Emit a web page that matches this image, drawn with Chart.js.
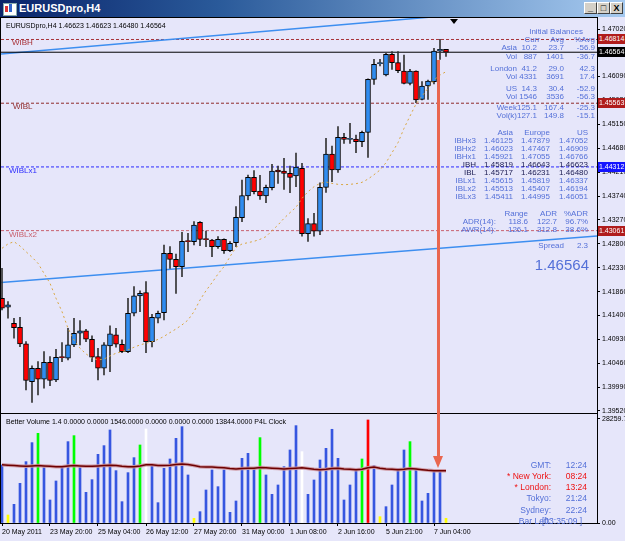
<!DOCTYPE html>
<html><head><meta charset="utf-8">
<script src="https://cdn.jsdelivr.net/npm/chart.js@4.4.1/dist/chart.umd.min.js"></script>
<style>
html,body{margin:0;padding:0}
body{width:625px;height:541px;position:relative;overflow:hidden;background:#e6e6fa;font-family:"Liberation Sans",Arial,sans-serif}
.abs{position:absolute;white-space:nowrap}
#title{left:0;top:0;width:625px;height:17px;background:linear-gradient(to right,#0a246a 0%,#2a5a9a 35%,#a6caf0 100%)}
#title .t{left:19px;top:2px;color:#fff;font-weight:bold;font-size:11px;line-height:13px}
.btn{top:2px;width:13px;height:12px;background:#d4d0c8;border:1px solid;border-color:#fff #404040 #404040 #fff;box-sizing:border-box;font-size:9px;line-height:10px;text-align:center;color:#000;font-weight:bold}
#frame{left:0;top:17px;width:598px;height:507px;border:1px solid #000;box-sizing:border-box}
#sep{left:1px;top:413px;width:596px;height:1px;background:#000}
canvas{position:absolute;left:0}
</style></head><body>
<div id="title" class="abs">
  <div class="abs" style="left:3px;top:3px;width:12px;height:11px;background:#fff;border:1px solid #8aa"></div>
  <div class="abs" style="left:5px;top:6px;width:3px;height:6px;background:#d33"></div>
  <div class="abs" style="left:9px;top:4px;width:3px;height:8px;background:#36c"></div>
  <div class="abs t">EURUSDpro,H4</div>
  <div class="abs btn" style="left:584px">_</div>
  <div class="abs btn" style="left:597px">□</div>
  <div class="abs btn" style="left:610px">X</div>
</div>
<div id="frame" class="abs"></div>
<canvas id="main" width="625" height="395" style="top:18px"></canvas>
<canvas id="vol" width="625" height="127" style="top:414px"></canvas>
<div id="sep" class="abs"></div>
<div id="overlay"></div>
<script>
// ---------------- data ----------------
const tickLabels = ['20 May 2011','23 May 20:00','25 May 04:00','26 May 12:00','27 May 20:00','31 May 00:00','1 Jun 08:00','2 Jun 16:00','5 Jun 21:00','7 Jun 04:00'];
const barsPerTick = 8;
const opens  = [1.41733,1.41556,1.41242,1.41164,1.40837,1.40098,1.40360,1.40144,1.40477,1.40131,1.40575,1.40556,1.40817,1.41046,1.41092,1.40929,1.40588,1.40360,1.40798,1.41014,1.40830,1.40687,1.41439,1.41779,1.41844,1.40883,1.41340,1.41450,1.42615,1.42498,1.42354,1.42851,1.42845,1.43224,1.42890,1.42877,1.42746,1.42890,1.42668,1.42825,1.43316,1.43741,1.44108,1.43839,1.43741,1.43905,1.44252,1.44232,1.44186,1.44133,1.44284,1.43000,1.43200,1.43050,1.43911,1.44565,1.44251,1.44892,1.44853,1.44860,1.44807,1.44990,1.46031,1.46340,1.46116,1.46522,1.46359,1.46195,1.45953,1.46195,1.45639,1.45900,1.45986,1.46588,1.46623];
const highs  = [1.42321,1.41668,1.41340,1.41360,1.40883,1.40405,1.40490,1.40687,1.40588,1.40732,1.40863,1.41144,1.41340,1.41295,1.41125,1.40994,1.40752,1.40863,1.41190,1.41144,1.40915,1.41733,1.41962,1.41877,1.42059,1.41420,1.41480,1.42779,1.42746,1.42602,1.43028,1.43008,1.43237,1.43237,1.43054,1.42890,1.42943,1.42900,1.42844,1.43532,1.44055,1.44153,1.44238,1.44147,1.43957,1.44363,1.44330,1.44481,1.44330,1.44585,1.44382,1.43300,1.43400,1.44000,1.44873,1.44722,1.45102,1.44971,1.45167,1.44938,1.45017,1.46040,1.46424,1.46424,1.46542,1.46575,1.46575,1.46509,1.46228,1.46200,1.45986,1.46018,1.46640,1.46817,1.46623];
const lows   = [1.41504,1.41340,1.40948,1.40785,1.39934,1.39686,1.39836,1.39967,1.40019,1.40098,1.40490,1.40523,1.40785,1.40817,1.40883,1.40490,1.40131,1.40229,1.40294,1.40772,1.40667,1.40667,1.41386,1.41471,1.40667,1.40780,1.41250,1.41306,1.42321,1.41830,1.42157,1.42648,1.42779,1.42766,1.42746,1.42550,1.42714,1.42615,1.42648,1.42746,1.43237,1.43663,1.43780,1.43676,1.43610,1.43859,1.43990,1.43872,1.43806,1.43924,1.42950,1.42850,1.42950,1.42980,1.43813,1.44022,1.44205,1.44775,1.44775,1.44591,1.44709,1.44500,1.45933,1.46293,1.46097,1.46228,1.46162,1.45940,1.45920,1.45573,1.45626,1.45639,1.45940,1.46424,1.46480];
const closes = [1.41537,1.41602,1.41157,1.40837,1.40118,1.40360,1.40144,1.40477,1.40118,1.40575,1.40569,1.40817,1.41046,1.41092,1.40929,1.40575,1.40360,1.40817,1.41033,1.40830,1.40687,1.41439,1.41779,1.41831,1.40883,1.41360,1.41438,1.42615,1.42498,1.42354,1.42851,1.42845,1.43172,1.42890,1.42884,1.42746,1.42890,1.42668,1.42812,1.43322,1.43748,1.44108,1.43826,1.43741,1.43911,1.44232,1.44212,1.44186,1.44108,1.44310,1.43000,1.43200,1.43050,1.43911,1.44565,1.44251,1.44892,1.44853,1.44860,1.44807,1.44990,1.46031,1.46326,1.46346,1.46522,1.46359,1.46202,1.45953,1.46195,1.45626,1.45900,1.45999,1.46588,1.46620,1.46564];
const priceMA = [1.42714,1.42800,1.42845,1.42760,1.42648,1.42540,1.42420,1.42223,1.42027,1.41733,1.41471,1.41144,1.40915,1.40752,1.40641,1.40556,1.40523,1.40540,1.40601,1.40654,1.40687,1.40719,1.40772,1.40817,1.40850,1.40880,1.40925,1.40985,1.41060,1.41130,1.41210,1.41306,1.41470,1.41699,1.41882,1.42039,1.42210,1.42354,1.42550,1.42733,1.42799,1.42825,1.42851,1.42890,1.42943,1.43060,1.43172,1.43303,1.43414,1.43519,1.43695,1.43826,1.43924,1.43989,1.44016,1.43989,1.43970,1.43963,1.43970,1.43983,1.44009,1.44074,1.44159,1.44251,1.44395,1.44591,1.44788,1.45069,1.45311,1.45547,1.45704,1.45855,1.46018,1.46116,1.46182];
const priceTicks = [1.47020,1.46555,1.46090,1.45620,1.45150,1.44680,1.44210,1.43740,1.43270,1.42800,1.42330,1.41860,1.41400,1.40930,1.40460,1.39990,1.39520];
const levelNames  = ['WIBH','WIBL','WIBLx1','WIBLx2'];
const levelValues = [1.46814,1.45563,1.44312,1.43061];
const bidPrice = 1.46564;
const trendUpper = [[-0.17,1.46531],[99.17,1.47534]];
const trendLower = [[-0.17,1.42041],[99.17,1.42954]];
const volumes = [15764,2174,5074,10781,16670,21835,24371,15040,6251,11416,15311,22106,23737,15040,8335,11778,18664,21019,25277,14224,5798,13681,17758,21200,25549,15764,5527,14858,17395,23012,26183,13046,1268,3080,8969,14405,9875,14405,2899,5980,17576,18935,15040,23194,13046,7792,10328,15311,19841,26455,19388,7792,11687,17123,20294,25459,17576,6251,10328,14405,17395,27995,15583,1721,4439,10328,14858,19841,22106,14858,5980,8063,13952,13952,1268];
const volType = ['n','low','n','n','n','n','churn','n','n','n','n','n','churn','n','n','n','n','n','n','n','n','n','n','churn','climaxDn','n','n','n','n','n','n','n','low','n','n','n','n','n','n','n','n','n','n','churn','n','n','n','n','n','n','climaxDn','n','n','n','n','n','n','n','n','n','churn','climaxUp','n','low','n','n','n','n','churn','n','n','n','n','n','low'];
const volMA = [15800,15700,15600,15500,15400,15500,15600,15500,15400,15300,15300,15500,15600,15500,15400,15400,15500,15600,15700,15600,15400,15300,15300,15500,15800,15800,15600,15600,15700,15900,16000,15900,15600,15300,15200,15200,15100,15000,14800,14700,14800,14900,14900,15100,15000,14900,14800,14700,14800,14900,15000,14800,14600,14500,14600,14800,14900,14700,14600,14500,14600,15000,15200,14900,14700,14600,14500,14600,14800,14700,14500,14300,14200,14200,14200];
const volTicks = [0, 28259.7];

// ---------------- styles ----------------
const BULL = '#2f8cf0', BEAR = '#ff0000';
const VOL_COLORS = {n:'#3656e0', low:'#ffff00', churn:'#00ff00', climaxDn:'#ffffff', climaxUp:'#ff0000'};
const levelColors = ['#a83238','#902a2a','#2b2bff','#c8606e'];
const X_MIN = -1/6, X_MAX = 595/6;
const Y_MIN = 1.394805, Y_MAX = 1.472360;
const VOL_MAX = 29615;

Chart.defaults.font.family = '"Liberation Sans", Arial, sans-serif';
function yFit(s){ s.width = 28; s.paddingTop = 0; s.paddingBottom = 0; }

const pts = arr => arr.map((v,i)=>({x:i, y:v}));
const seg = p => p.map(q=>({x:q[0], y:q[1]}));

const datasets = [];
levelValues.forEach((v,k)=>datasets.push({type:'line', data:[{x:X_MIN,y:v},{x:X_MAX,y:v}], borderColor:levelColors[k], borderWidth:1, borderDash:[3,2], pointRadius:0, order:5}));
datasets.push({type:'line', data:[{x:X_MIN,y:bidPrice},{x:X_MAX,y:bidPrice}], borderColor:'#000', borderWidth:1, pointRadius:0, order:4});
datasets.push({type:'line', data:seg(trendUpper), borderColor:'#3d8ef0', borderWidth:1.5, pointRadius:0, order:4});
datasets.push({type:'line', data:seg(trendLower), borderColor:'#3d8ef0', borderWidth:1.5, pointRadius:0, order:4});
datasets.push({type:'line', data:pts(priceMA), borderColor:'#d9a640', borderWidth:1, borderDash:[2,3], pointRadius:0, order:0});
datasets.push({type:'bar', data:lows.map((l,i)=>({x:i, y:[l, highs[i]]})), backgroundColor:'#333', barThickness:1, grouped:false, order:3});
datasets.push({type:'bar', data:opens.map((o,i)=>({x:i, y:[o, closes[i]]})),
  backgroundColor: c => closes[c.dataIndex] >= opens[c.dataIndex] ? BULL : BEAR,
  borderColor:'#000', borderWidth:1, borderSkipped:false, barThickness:5, minBarLength:1, grouped:false, order:2});

const mainChart = new Chart(document.getElementById('main'), {
  type:'bar', data:{datasets},
  options:{responsive:false, animation:false, devicePixelRatio:1,
    layout:{padding:{left:1,right:0,top:0,bottom:0}},
    plugins:{legend:{display:false}, tooltip:{enabled:false}},
    scales:{
      x:{type:'linear', min:X_MIN, max:X_MAX, display:false, offset:false, grid:{offset:false}},
      y:{type:'linear', position:'right', min:Y_MIN, max:Y_MAX,
         afterBuildTicks: s => { s.ticks = priceTicks.map(v=>({value:v})); },
         afterFit: yFit,
         ticks:{callback: v => v.toFixed(5), font:{size:7}, color:'#000', crossAlign:'near', padding:2, autoSkip:false},
         grid:{drawOnChartArea:false, drawTicks:true, tickLength:3, tickColor:'#000'},
         border:{display:true, color:'#000', width:1}}
    }}
});

const volChart = new Chart(document.getElementById('vol'), {
  type:'bar',
  data:{datasets:[
    {type:'line', data:pts(volMA), borderColor:'#6e0000', borderWidth:1.5, pointRadius:0, order:0},
    {type:'line', data:pts(volMA), borderColor:'rgba(205,150,160,0.9)', borderWidth:3.5, pointRadius:0, order:1},
    {type:'bar', data:pts(volumes), backgroundColor: c => VOL_COLORS[volType[c.dataIndex]], barThickness:2, grouped:false, order:2}
  ]},
  options:{responsive:false, animation:false, devicePixelRatio:1,
    layout:{padding:{left:1,right:0,top:0,bottom:0}},
    plugins:{legend:{display:false}, tooltip:{enabled:false}},
    scales:{
      x:{type:'linear', min:X_MIN, max:X_MAX, offset:false,
         afterBuildTicks: s => { s.ticks = tickLabels.map((_,k)=>({value:k*barsPerTick})); },
         afterFit: s => { s.height = 18; s.paddingLeft = 0; s.paddingRight = 0; },
         ticks:{callback: v => tickLabels[Math.round(v/barsPerTick)], align:'start', maxRotation:0, minRotation:0, autoSkip:false, font:{size:7}, color:'#000', padding:2},
         grid:{drawOnChartArea:false, tickLength:3, tickColor:'#000', offset:false},
         border:{display:true, color:'#000', width:1}},
      y:{type:'linear', position:'right', min:0, max:VOL_MAX,
         afterBuildTicks: s => { s.ticks = volTicks.map(v=>({value:v})); },
         afterFit: yFit,
         ticks:{callback: v => v === 0 ? '0.00' : v.toFixed(1), font:{size:7}, color:'#000', crossAlign:'near', padding:2, autoSkip:false},
         grid:{drawOnChartArea:false, tickLength:3, tickColor:'#000'},
         border:{display:true, color:'#000', width:1}}
    }}
});

// ---------------- text overlays ----------------
const ov = document.getElementById('overlay');
function txt(s, x, y, o={}){
  const d = document.createElement('div');
  d.className = 'abs';
  const size = o.size || 8, lh = size + 2;
  d.textContent = s;
  d.style.fontSize = size + 'px';
  d.style.lineHeight = lh + 'px';
  d.style.top = (y - lh/2) + 'px';
  if (o.align === 'right') d.style.right = (625 - x) + 'px'; else d.style.left = x + 'px';
  d.style.color = o.color || '#5470d8';
  if (o.weight) d.style.fontWeight = o.weight;
  if (o.bg) { d.style.background = o.bg; }
  ov.appendChild(d);
  return d;
}
const MAIN_TOP = 18, VOL_TOP = 414;
const ys = mainChart.scales.y;
txt('EURUSDpro,H4  1.46623 1.46623 1.46480 1.46564', 6, 25, {size:7, color:'#000'});
txt('Better Volume 1.4 0.0000 0.0000 1546.0000 0.0000 0.0000 0.0000 13844.0000    P4L Clock', 6, 421, {size:7, color:'#000'});

// level labels
const lblLeft = [12, 13, 9, 9];
levelValues.forEach((v,k)=>{
  const py = MAIN_TOP + ys.getPixelForValue(v);
  txt(levelNames[k], lblLeft[k], py + 4, {size:8, color:levelColors[k]});
});
// price tags on the axis
const tagVals = [levelValues[0], bidPrice, levelValues[1], levelValues[2], levelValues[3]];
const tagBg = ['#b01c1c', '#000000', '#b01c1c', '#1414ff', '#b01c1c'];
tagVals.forEach((v,k)=>{
  const py = MAIN_TOP + ys.getPixelForValue(v);
  const d = txt(v.toFixed(5), 598, py, {size:7, color:'#fff', bg:tagBg[k]});
  d.style.width = '27px'; d.style.height = '10px'; d.style.lineHeight = '10px'; d.style.top = (py - 5) + 'px';
  d.style.paddingLeft = '1px'; d.style.boxSizing = 'border-box';
});

// info panel
txt('Initial Balances', 583, 31.5, {align:'right'});
txt('Curr', 540, 40, {align:'right'}); txt('Avg', 564, 40, {align:'right'}); txt('%Avg', 595, 40, {align:'right'});
const sessRows = [
 ['Asia','10.2','23.7','-56.9'],['Vol','887','1401','-36.7'],
 ['London','41.2','29.0','42.3'],['Vol','4331','3691','17.4'],
 ['US','14.3','30.4','-52.9'],['Vol','1546','3536','-56.3'],
 ['Week','125.1','167.4','-25.3'],['Vol(k)','127.1','149.8','-15.1']];
const sessY = [48,56.5,68.5,77,88.5,96.5,108,116];
const sessX = [517,537,564,595];
sessRows.forEach((r,i)=> r.forEach((c,j)=> txt(c, sessX[j], sessY[i], {align:'right'})));

const ibX = [476,513,550,588];
txt('Asia', ibX[1], 132.5, {align:'right'}); txt('Europe', ibX[2], 132.5, {align:'right'}); txt('US', ibX[3], 132.5, {align:'right'});
const ibRows = [
 ['IBHx3','1.46125','1.47879','1.47052'],['IBHx2','1.46023','1.47467','1.46909'],
 ['IBHx1','1.45921','1.47055','1.46766'],['IBH','1.45819','1.46643','1.46623'],
 ['IBL','1.45717','1.46231','1.46480'],['IBLx1','1.45615','1.45819','1.46337'],
 ['IBLx2','1.45513','1.45407','1.46194'],['IBLx3','1.45411','1.44995','1.46051']];
ibRows.forEach((r,i)=> r.forEach((c,j)=> txt(c, ibX[j], 140.7 + i*8, {align:'right', color:(i===3||i===4)?'#1c1c52':'#5470d8'})));

const rgX = [496,528,557,588];
txt('Range', rgX[1], 214, {align:'right'}); txt('ADR', rgX[2], 214, {align:'right'}); txt('%ADR', rgX[3], 214, {align:'right'});
[['ADR(14):','118.6','122.7','96.7%'],['AWR(14):','126.1','312.8','38.6%']].forEach((r,i)=> r.forEach((c,j)=> txt(c, rgX[j], 222 + i*8.3, {align:'right'})));
txt('Spread', 564, 246, {align:'right'}); txt('2.3', 588, 246, {align:'right'});
txt('1.46564', 589, 264, {align:'right', size:15});

// clock
const clk = [['GMT:','12:24','#5470d8'],['* New York:','08:24','#ee1111'],['* London:','13:24','#ee1111'],['Tokyo:','21:24','#5470d8'],['Sydney:','22:24','#5470d8']];
clk.forEach((r,i)=>{ txt(r[0], 551, 465 + i*11.2, {align:'right', size:8.5, color:r[2]}); txt(r[1], 587, 465 + i*11.2, {align:'right', size:8.5, color:r[2]}); });
txt('Bar Left:', 551, 521, {align:'right', size:8.5});
txt('[03:35:09 ]', 542, 521, {size:8.5});

// arrow annotation and shift marker
const arrow = document.createElement('div');
arrow.className = 'abs';
arrow.style.cssText = 'left:437px;top:60px;width:3px;height:398px;background:#e9664f;position:absolute';
ov.appendChild(arrow);
const head = document.createElement('div');
head.style.cssText = 'position:absolute;left:433px;top:456px;width:0;height:0;border-left:5.5px solid transparent;border-right:5.5px solid transparent;border-top:12px solid #e9664f';
ov.appendChild(head);
const tri = document.createElement('div');
tri.style.cssText = 'position:absolute;left:450px;top:19px;width:0;height:0;border-left:4px solid transparent;border-right:4px solid transparent;border-top:5px solid #000';
ov.appendChild(tri);
</script>
</body></html>
